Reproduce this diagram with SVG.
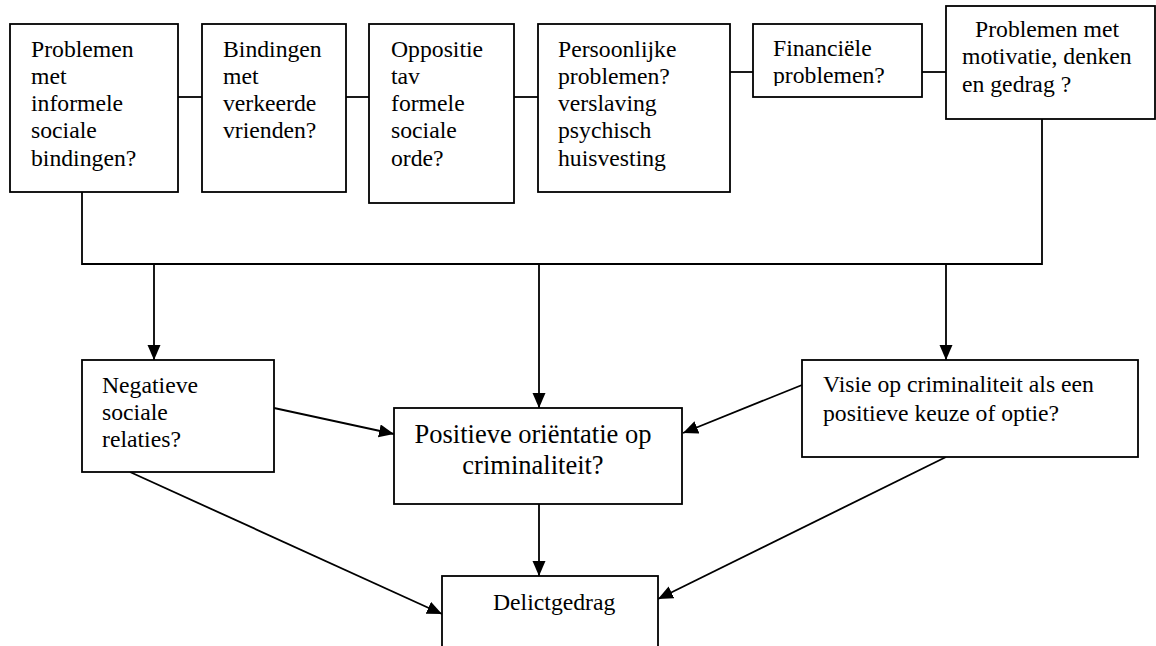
<svg xmlns="http://www.w3.org/2000/svg" width="1156" height="646" viewBox="0 0 1156 646">
<style>
.box{fill:#fff;stroke:#000;stroke-width:1.8}
.t{font-family:"Liberation Serif","Times New Roman",serif;font-size:23.7px;fill:#000}
.tb{font-family:"Liberation Serif","Times New Roman",serif;font-size:26.5px;fill:#000}
.ln{fill:none;stroke:#000;stroke-width:1.8}
</style>
<defs>
<marker id="ah" markerUnits="userSpaceOnUse" markerWidth="16" markerHeight="14" refX="15" refY="6.5" orient="auto">
<path d="M0,0 L15,6.5 L0,13 z" fill="#000"/>
</marker>
<clipPath id="clipFin"><rect x="753" y="24" width="169" height="62"/></clipPath>
</defs>
<rect width="1156" height="646" fill="#fff"/>
<g id="connectors">
<line class="ln" x1="178" y1="97" x2="202" y2="97"/>
<line class="ln" x1="346" y1="97" x2="369" y2="97"/>
<line class="ln" x1="514" y1="97" x2="538" y2="97"/>
<line class="ln" x1="730" y1="72" x2="753" y2="72"/>
<line class="ln" x1="922" y1="72" x2="946" y2="72"/>
<polyline class="ln" points="82,192 82,264 1042,264 1042,119"/>
<line class="ln" x1="154" y1="264" x2="154" y2="360" marker-end="url(#ah)"/>
<line class="ln" x1="539" y1="264" x2="539" y2="408" marker-end="url(#ah)"/>
<line class="ln" x1="946" y1="264" x2="946" y2="360" marker-end="url(#ah)"/>
<line class="ln" x1="274" y1="408" x2="394" y2="434" marker-end="url(#ah)"/>
<line class="ln" x1="802" y1="385" x2="683" y2="433" marker-end="url(#ah)"/>
<line class="ln" x1="539" y1="504" x2="539" y2="576" marker-end="url(#ah)"/>
<line class="ln" x1="130" y1="472" x2="442" y2="614" marker-end="url(#ah)"/>
<line class="ln" x1="946" y1="457" x2="658" y2="599" marker-end="url(#ah)"/>
</g>
<g id="n1">
<rect class="box" x="10" y="24" width="168" height="168"/>
<text class="t" x="31" y="57">Problemen</text>
<text class="t" x="31" y="84">met</text>
<text class="t" x="31" y="111">informele</text>
<text class="t" x="31" y="138">sociale</text>
<text class="t" x="31" y="166">bindingen?</text>
</g>
<g id="n2">
<rect class="box" x="202" y="24" width="144" height="168"/>
<text class="t" x="223" y="57">Bindingen</text>
<text class="t" x="223" y="84">met</text>
<text class="t" x="223" y="111">verkeerde</text>
<text class="t" x="223" y="138">vrienden?</text>
</g>
<g id="n3">
<rect class="box" x="369" y="24" width="145" height="179"/>
<text class="t" x="391" y="57">Oppositie</text>
<text class="t" x="391" y="84">tav</text>
<text class="t" x="391" y="111">formele</text>
<text class="t" x="391" y="138">sociale</text>
<text class="t" x="391" y="166">orde?</text>
</g>
<g id="n4">
<rect class="box" x="538" y="24" width="192" height="168"/>
<text class="t" x="558" y="57">Persoonlijke</text>
<text class="t" x="558" y="84">problemen?</text>
<text class="t" x="558" y="111">verslaving</text>
<text class="t" x="558" y="138">psychisch</text>
<text class="t" x="558" y="166">huisvesting</text>
</g>
<g id="n5">
<rect class="box" x="753" y="24" width="169" height="73"/>
<g clip-path="url(#clipFin)">
<text class="t" x="773" y="56">Financiële</text>
<text class="t" x="773" y="83">problemen?</text>
</g>
</g>
<g id="n6">
<rect class="box" x="946" y="6" width="209" height="113"/>
<text class="t" x="975" y="37">Problemen met</text>
<text class="t" x="962" y="64">motivatie, denken</text>
<text class="t" x="962" y="92">en gedrag ?</text>
</g>
<g id="n7">
<rect class="box" x="82" y="360" width="192" height="112"/>
<text class="t" x="102" y="393">Negatieve</text>
<text class="t" x="102" y="420">sociale</text>
<text class="t" x="102" y="447">relaties?</text>
</g>
<g id="n8">
<rect class="box" x="394" y="408" width="288" height="96"/>
<text class="tb" x="533" y="443" text-anchor="middle">Positieve oriëntatie op</text>
<text class="tb" x="533" y="474" text-anchor="middle">criminaliteit?</text>
</g>
<g id="n9">
<rect class="box" x="802" y="360" width="336" height="97"/>
<text class="t" x="823" y="392">Visie op criminaliteit als een</text>
<text class="t" x="823" y="421">positieve keuze of optie?</text>
</g>
<g id="n10">
<rect class="box" x="442" y="576" width="216" height="90"/>
<text class="t" x="493" y="610">Delictgedrag</text>
</g>
</svg>
